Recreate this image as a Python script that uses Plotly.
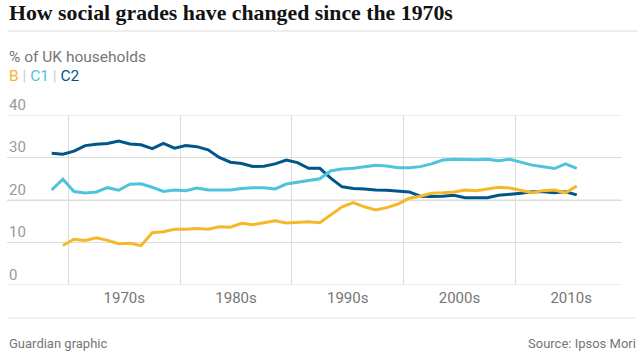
import plotly.graph_objects as go

years = list(range(1968, 2016))

grade_b = [None, 9.3, 10.75, 10.5, 11.1, 10.5, 9.7, 9.8, 9.25, 12.3,
           12.55, 13.1, 13.1, 13.3, 13.1, 13.7, 13.6, 14.5, 14.2, 14.65,
           15.1, 14.6, 14.8, 14.9, 14.65, 16.5, 18.4, 19.4, 18.4, 17.65,
           18.2, 19.05, 20.4, 20.9, 21.6, 21.7, 21.9, 22.35, 22.2, 22.6,
           23.0, 22.8, 22.2, 21.7, 22.2, 22.35, 21.7, 23.3]

grade_c1 = [22.35, 24.9, 22.0, 21.65, 21.9, 22.9, 22.3, 23.7, 23.8, 23.0,
            22.0, 22.35, 22.2, 22.8, 22.35, 22.35, 22.35, 22.7, 22.9, 22.9,
            22.6, 23.75, 24.15, 24.7, 25.0, 26.9, 27.3, 27.45, 27.85, 28.2,
            28.0, 27.6, 27.6, 27.85, 28.5, 29.4, 29.6, 29.5, 29.5, 29.6,
            29.25, 29.6, 28.9, 28.2, 27.8, 27.4, 28.5, 27.45]

grade_c2 = [31.0, 30.75, 31.5, 32.8, 33.1, 33.3, 33.9, 33.2, 33.0, 32.1,
            33.3, 32.2, 32.8, 32.55, 31.8, 30.0, 28.9, 28.6, 27.9, 27.95,
            28.5, 29.4, 28.8, 27.45, 27.45, 25.1, 23.1, 22.7, 22.6, 22.35,
            22.3, 22.1, 21.9, 20.9, 20.8, 20.9, 21.1, 20.55, 20.6, 20.55,
            21.1, 21.3, 21.6, 21.95, 21.95, 21.7, 21.95, 21.2]

decade_labels = ["1970s", "1980s", "1990s", "2000s", "2010s"]
decade_starts = [1970, 1980, 1990, 2000, 2010]
y_ticks = [0, 10, 20, 30, 40]

COL_B = "#f5b82a"
COL_C1 = "#4fc3dc"
COL_C2 = "#005689"
GRID = "#dcdcdc"
GREY = "#767676"
SANS = "Roboto, 'Noto Sans', sans-serif"

# years are plotted at mid-year; decade boundaries fall between points
half = 0.5
xs = [y + half for y in years]

fig = go.Figure()
for name, vals, col in [("C2", grade_c2, COL_C2), ("C1", grade_c1, COL_C1), ("B", grade_b, COL_B)]:
    fig.add_trace(go.Scatter(x=xs, y=vals, mode="lines", name=name,
                             line=dict(color=col, width=3), connectgaps=False,
                             hoverinfo="skip"))

fig.update_layout(
    template="none",
    width=643, height=364,
    margin=dict(l=7, r=21, t=115, b=79, pad=0),
    paper_bgcolor="white", plot_bgcolor="white",
    showlegend=False,
    font=dict(family=SANS, color=GREY, size=15),
)

fig.update_xaxes(
    range=[1964.5, 2019.55],
    tickmode="array",
    tickvals=[d + 5 for d in decade_starts],
    ticktext=decade_labels,
    showgrid=False, zeroline=False, showline=False,
    ticks="", ticklabelstandoff=2,
    tickfont=dict(size=15, color=GREY, family=SANS),
    minor=dict(tickmode="array", tickvals=[d for d in decade_starts] + [2020],
               showgrid=True, gridcolor=GRID, gridwidth=1, ticks=""),
    fixedrange=True,
)
fig.update_yaxes(
    range=[0, 40],
    tickmode="array",
    tickvals=y_ticks,
    showgrid=True, gridcolor=GRID, gridwidth=1,
    zeroline=False, showline=False, ticks="",
    showticklabels=False,
    fixedrange=True,
)

# horizontal gridlines at the y tick values, and labels just above them
for v in y_ticks:
    fig.add_shape(type="line", xref="paper", yref="y", x0=0, x1=1, y0=v, y1=v,
                  layer="below", line=dict(color=GRID, width=1))
    fig.add_annotation(text=str(v), xref="paper", yref="y", x=0.0, y=v,
                       xanchor="left", yanchor="middle", yshift=10.5,
                       showarrow=False,
                       font=dict(family=SANS, size=15, color="#999999"))

def py(p):
    return (285 - p) / 170.0

def px(p):
    return (p - 7) / 615.0

fig.add_annotation(text="<b>How social grades have changed since the 1970s</b>",
                   xref="paper", yref="paper", x=px(7), y=py(13),
                   xanchor="left", yanchor="middle", showarrow=False,
                   font=dict(family="'Liberation Serif', serif", size=21.8, color="#121212"))
fig.add_shape(type="line", xref="paper", yref="paper", x0=px(8), x1=px(637),
              y0=py(31), y1=py(31), line=dict(color=GRID, width=1))
fig.add_annotation(text="% of UK households",
                   xref="paper", yref="paper", x=px(7), y=py(57),
                   xanchor="left", yanchor="middle", showarrow=False,
                   font=dict(family=SANS, size=15.5, color=GREY))
legend_html = (f"<span style='color:{COL_B}'>B</span>"
               f"<span style='color:#cccccc'> | </span>"
               f"<span style='color:{COL_C1}'>C1</span>"
               f"<span style='color:#cccccc'> | </span>"
               f"<span style='color:{COL_C2}'>C2</span>")
fig.add_annotation(text=legend_html,
                   xref="paper", yref="paper", x=px(7), y=py(76),
                   xanchor="left", yanchor="middle", showarrow=False,
                   font=dict(family=SANS, size=15.5, color=GREY))
fig.add_shape(type="line", xref="paper", yref="paper", x0=px(8), x1=px(637),
              y0=py(318), y1=py(318), line=dict(color="#e6e6e6", width=1))
fig.add_annotation(text="Guardian graphic",
                   xref="paper", yref="paper", x=px(7), y=py(343),
                   xanchor="left", yanchor="middle", showarrow=False,
                   font=dict(family=SANS, size=13, color=GREY))
fig.add_annotation(text="Source: Ipsos Mori",
                   xref="paper", yref="paper", x=px(638), y=py(343),
                   xanchor="right", yanchor="middle", showarrow=False,
                   font=dict(family=SANS, size=13, color=GREY))

fig.write_html("out.html",
               config={"displayModeBar": False, "staticPlot": True},
               post_script="document.body.style.margin='0';document.body.style.overflow='hidden';")
